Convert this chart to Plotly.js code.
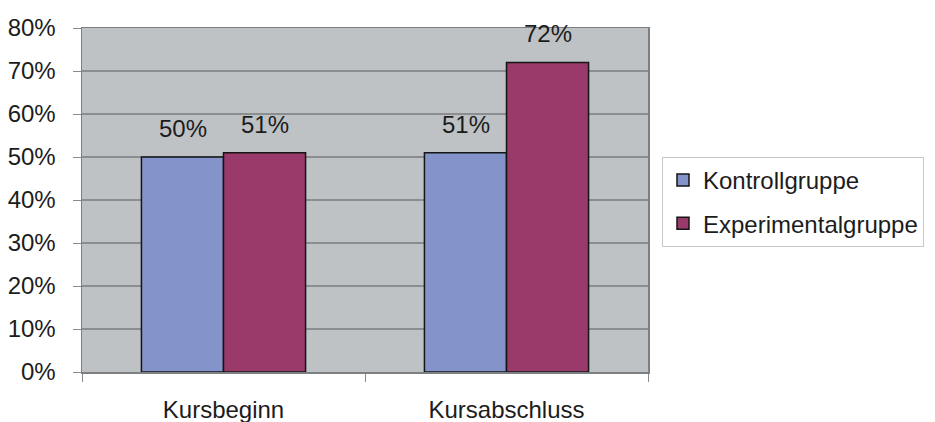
<!DOCTYPE html>
<html>
<head>
<meta charset="utf-8">
<script src="https://cdn.plot.ly/plotly-3.0.1.min.js"></script>
<style>
  html, body { margin: 0; padding: 0; background: #ffffff; }
  #chart { width: 935px; height: 422px; }
</style>
</head>
<body>
<div id="chart"></div>
<script>
// Kursergebnisse: Anteil je Gruppe zu Kursbeginn und Kursabschluss
const categories = ['Kursbeginn', 'Kursabschluss'];
const seriesNames = ['Kontrollgruppe', 'Experimentalgruppe'];
const kontrollgruppe = [0.50, 0.51];
const experimentalgruppe = [0.51, 0.72];
const yTickValues = [0, 0.1, 0.2, 0.3, 0.4, 0.5, 0.6, 0.7, 0.8];

const FONT = 'Liberation Sans, Arial, sans-serif';
const TEXT = '#1c1c1c';
const colors = ['#8593cb', '#993a6b'];
const seriesValues = [kontrollgruppe, experimentalgruppe];

const traces = seriesValues.map((vals, i) => ({
  type: 'bar',
  name: seriesNames[i],
  x: categories,
  y: vals,
  legendgroup: 'g' + i,
  marker: { color: colors[i], line: { color: '#151515', width: 1.5 } },
  hoverinfo: 'skip'
}));

// value labels above each bar, offset to the bar's slot within its group
const barShift = 41;
const annotations = [];
seriesValues.forEach((vals, i) => {
  vals.forEach((v, j) => {
    annotations.push({
      x: categories[j], y: v, xref: 'x', yref: 'y',
      text: Math.round(v * 100) + '%',
      showarrow: false, yanchor: 'bottom',
      xshift: (i === 0 ? -1 : 1) * barShift, yshift: 13,
      font: { family: FONT, size: 24, color: TEXT }
    });
  });
});

const layout = {
  width: 935, height: 422,
  margin: { l: 82, r: 287, t: 28, b: 50 },
  paper_bgcolor: '#ffffff',
  plot_bgcolor: '#bec2c5',
  barmode: 'group',
  bargap: 0.42,
  bargroupgap: 0,
  font: { family: FONT, size: 24, color: TEXT },
  xaxis: {
    type: 'category',
    tickson: 'boundaries',
    ticks: 'outside', ticklen: 8, tickcolor: '#8a8a8a', tickwidth: 1,
    showline: true, linecolor: '#7d8083', linewidth: 1.5, mirror: true,
    showgrid: false, zeroline: false,
    ticklabelstandoff: 16,
    tickfont: { family: FONT, size: 24, color: TEXT }
  },
  yaxis: {
    range: [0, 0.8],
    tickvals: yTickValues,
    tickformat: '.0%',
    ticks: 'outside', ticklen: 8, tickcolor: '#8a8a8a', tickwidth: 1,
    showline: true, linecolor: '#7d8083', linewidth: 1.5, mirror: true,
    showgrid: true, gridcolor: '#8b8e91', gridwidth: 1.5,
    zeroline: false,
    ticklabelstandoff: 12,
    tickfont: { family: FONT, size: 24, color: TEXT }
  },
  legend: {
    xref: 'container', yref: 'container',
    x: 662 / 935, y: 1 - 157 / 422,
    xanchor: 'left', yanchor: 'top',
    bgcolor: '#ffffff', bordercolor: '#c8c8c8', borderwidth: 1,
    tracegroupgap: 9,
    font: { family: FONT, size: 24, color: TEXT }
  },
  annotations: annotations,
  showlegend: true
};

Plotly.newPlot('chart', traces, layout, { displayModeBar: false, staticPlot: true });
</script>
</body>
</html>
